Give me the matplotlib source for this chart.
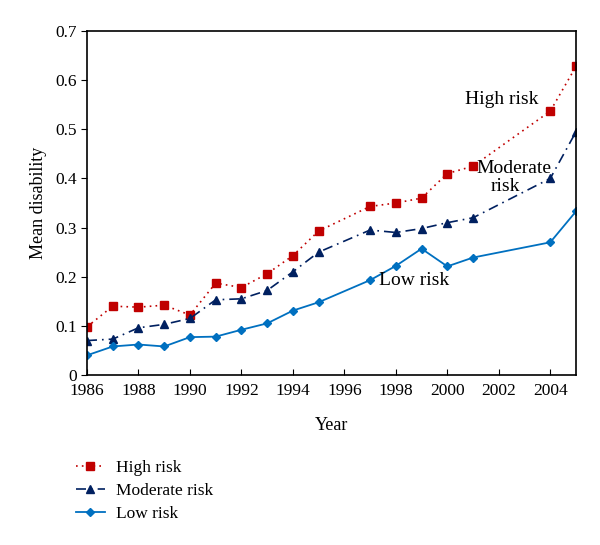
import matplotlib
matplotlib.use('Agg')
import matplotlib.pyplot as plt

plt.rcParams['font.family'] = ['Liberation Serif', 'DejaVu Serif']

# Data
years = [1986, 1987, 1988, 1989, 1990, 1991, 1992, 1993, 1994, 1995,
         1997, 1998, 1999, 2000, 2001, 2004, 2005]
high_risk = [0.098, 0.140, 0.138, 0.142, 0.122, 0.187, 0.178, 0.206, 0.243, 0.293,
             0.343, 0.350, 0.360, 0.410, 0.425, 0.537, 0.628]
moderate_risk = [0.070, 0.073, 0.096, 0.103, 0.115, 0.153, 0.155, 0.172, 0.210, 0.250,
                 0.295, 0.290, 0.298, 0.310, 0.320, 0.400, 0.495]
low_risk = [0.040, 0.058, 0.062, 0.058, 0.077, 0.078, 0.092, 0.105, 0.131, 0.148,
            0.193, 0.222, 0.257, 0.221, 0.239, 0.270, 0.333]
xticks = list(range(1986, 2005, 2))
yticks = [0, 0.1, 0.2, 0.3, 0.4, 0.5, 0.6, 0.7]

fig = plt.figure(figsize=(6, 5.45), dpi=100)
ax = fig.add_axes([0.145, 0.312, 0.815, 0.631])

ax.plot(years, high_risk, color='#C00000', linestyle=(0, (1, 2.5)), linewidth=1.2,
        marker='s', markersize=5.5, label='High risk')
ax.plot(years, moderate_risk, color='#002060', linestyle=(0, (6, 3, 1, 3)), linewidth=1.2,
        marker='^', markersize=6, label='Moderate risk')
ax.plot(years, low_risk, color='#0070C0', linestyle='-', linewidth=1.3,
        marker='D', markersize=4.5, label='Low risk')

ax.set_xlim(1986, 2005)
ax.set_ylim(0, 0.7)
ax.set_xticks(xticks)
ax.set_yticks(yticks)
ax.set_yticklabels(['0', '0.1', '0.2', '0.3', '0.4', '0.5', '0.6', '0.7'])
ax.tick_params(axis='x', direction='in', length=4, labelsize=12.5, pad=6)
ax.tick_params(axis='y', direction='out', length=4, labelsize=12.5)
for s in ax.spines.values():
    s.set_linewidth(1.2)

ax.set_xlabel('Year', fontsize=13, labelpad=13)
ax.set_ylabel('Mean disability', fontsize=13, labelpad=6)

ax.text(2002.1, 0.56, 'High risk', fontsize=14, ha='center', va='center')
ax.text(2002.6, 0.42, 'Moderate', fontsize=14, ha='center', va='center')
ax.text(2002.25, 0.383, 'risk', fontsize=14, ha='center', va='center')
ax.text(1998.7, 0.193, 'Low risk', fontsize=14, ha='center', va='center')

fig.legend(loc='upper left', bbox_to_anchor=(0.10, 0.185), frameon=False,
           fontsize=12.5, handlelength=1.7, labelspacing=0.4, handletextpad=0.6)

fig.savefig('out.png', dpi=100)
